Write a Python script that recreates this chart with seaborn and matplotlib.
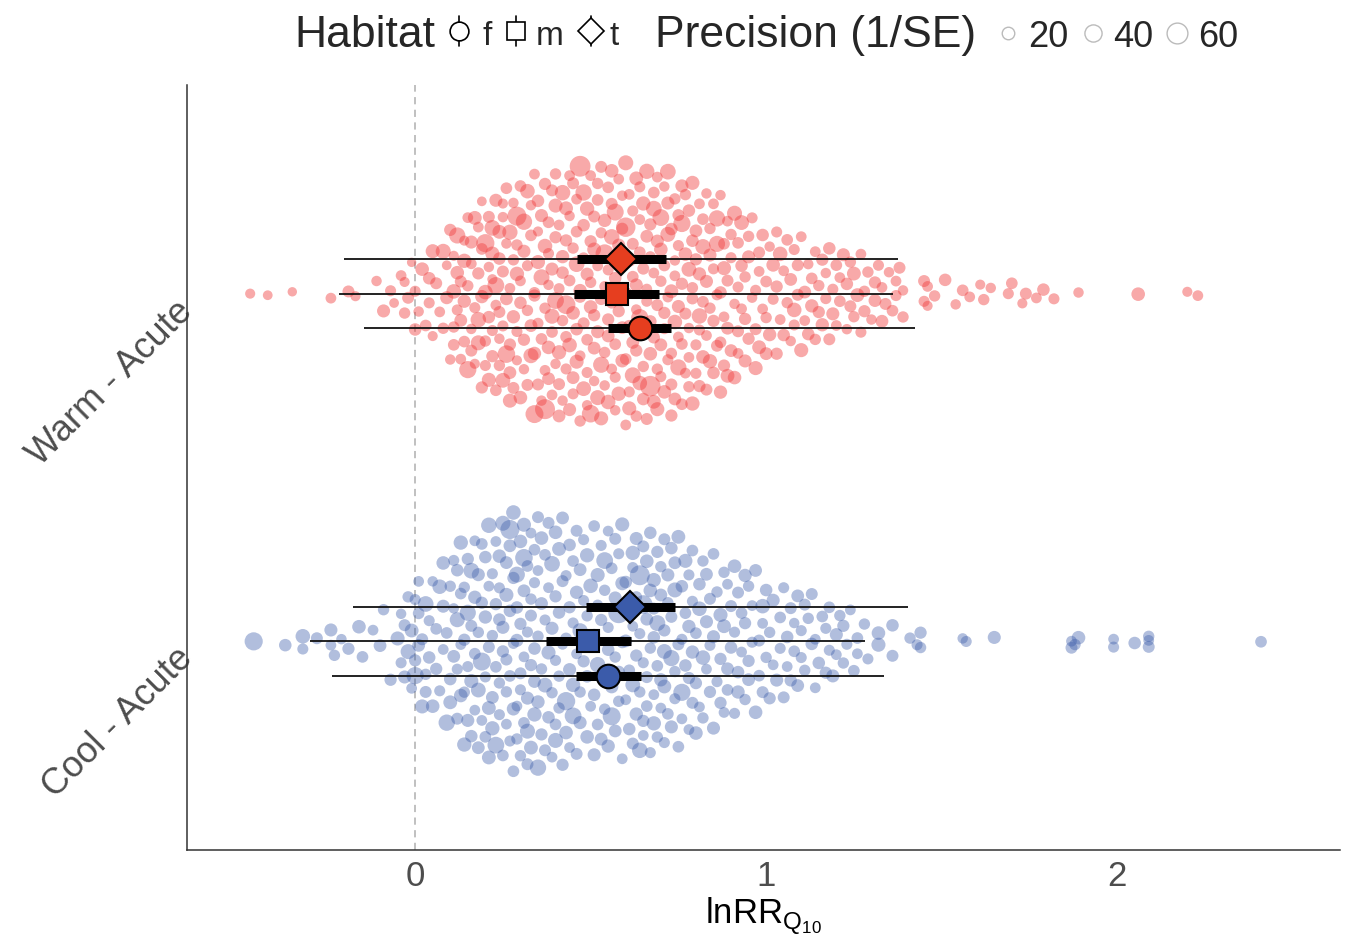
import numpy as np
import pandas as pd
import matplotlib
matplotlib.use("Agg")
import matplotlib.pyplot as plt
import seaborn as sns
from matplotlib.lines import Line2D

# ---------------- data ----------------
GROUPS = ["Cool - Acute", "Warm - Acute"]
HABITATS = ["f", "m", "t"]
X_TICKS = [0, 1, 2]
PREC_LEGEND = [20, 40, 60]

WARM_LNRR = [
    -0.47, -0.42, -0.35, -0.24, -0.19, -0.17, -0.11, -0.09, -0.07, -0.06,
    -0.04, -0.03, -0.03, -0.02, -0.01, 0.00, 0.00, 0.01, 0.02, 0.03,
    0.04, 0.04, 0.05, 0.05, 0.06, 0.07, 0.08, 0.08, 0.09, 0.09,
    0.10, 0.10, 0.11, 0.11, 0.11, 0.12, 0.12, 0.12, 0.13, 0.13,
    0.13, 0.14, 0.14, 0.14, 0.15, 0.15, 0.15, 0.16, 0.16, 0.16,
    0.17, 0.17, 0.17, 0.18, 0.18, 0.18, 0.19, 0.19, 0.19, 0.20,
    0.20, 0.20, 0.21, 0.21, 0.21, 0.21, 0.22, 0.22, 0.22, 0.22,
    0.23, 0.23, 0.23, 0.23, 0.24, 0.24, 0.24, 0.24, 0.25, 0.25,
    0.25, 0.25, 0.26, 0.26, 0.26, 0.26, 0.27, 0.27, 0.27, 0.27,
    0.28, 0.28, 0.28, 0.28, 0.29, 0.29, 0.29, 0.29, 0.30, 0.30,
    0.30, 0.30, 0.31, 0.31, 0.31, 0.31, 0.32, 0.32, 0.32, 0.32,
    0.33, 0.33, 0.33, 0.33, 0.34, 0.34, 0.34, 0.34, 0.34, 0.35,
    0.35, 0.35, 0.35, 0.35, 0.36, 0.36, 0.36, 0.36, 0.37, 0.37,
    0.37, 0.37, 0.37, 0.38, 0.38, 0.38, 0.38, 0.38, 0.39, 0.39,
    0.39, 0.39, 0.39, 0.40, 0.40, 0.40, 0.40, 0.40, 0.41, 0.41,
    0.41, 0.41, 0.41, 0.42, 0.42, 0.42, 0.42, 0.42, 0.43, 0.43,
    0.43, 0.43, 0.43, 0.44, 0.44, 0.44, 0.44, 0.44, 0.45, 0.45,
    0.45, 0.45, 0.45, 0.46, 0.46, 0.46, 0.46, 0.46, 0.47, 0.47,
    0.47, 0.47, 0.47, 0.48, 0.48, 0.48, 0.48, 0.48, 0.49, 0.49,
    0.49, 0.49, 0.49, 0.50, 0.50, 0.50, 0.50, 0.50, 0.51, 0.51,
    0.51, 0.51, 0.51, 0.52, 0.52, 0.52, 0.52, 0.52, 0.53, 0.53,
    0.53, 0.53, 0.53, 0.54, 0.54, 0.54, 0.54, 0.54, 0.55, 0.55,
    0.55, 0.55, 0.55, 0.56, 0.56, 0.56, 0.56, 0.56, 0.57, 0.57,
    0.57, 0.57, 0.57, 0.58, 0.58, 0.58, 0.58, 0.58, 0.59, 0.59,
    0.59, 0.59, 0.59, 0.60, 0.60, 0.60, 0.60, 0.60, 0.61, 0.61,
    0.61, 0.61, 0.61, 0.62, 0.62, 0.62, 0.62, 0.62, 0.63, 0.63,
    0.63, 0.63, 0.63, 0.64, 0.64, 0.64, 0.64, 0.64, 0.65, 0.65,
    0.65, 0.65, 0.65, 0.66, 0.66, 0.66, 0.66, 0.66, 0.67, 0.67,
    0.67, 0.67, 0.67, 0.68, 0.68, 0.68, 0.68, 0.68, 0.69, 0.69,
    0.69, 0.69, 0.69, 0.70, 0.70, 0.70, 0.70, 0.71, 0.71, 0.71,
    0.71, 0.72, 0.72, 0.72, 0.72, 0.73, 0.73, 0.73, 0.73, 0.74,
    0.74, 0.74, 0.74, 0.75, 0.75, 0.75, 0.75, 0.76, 0.76, 0.76,
    0.77, 0.77, 0.77, 0.78, 0.78, 0.78, 0.79, 0.79, 0.79, 0.80,
    0.80, 0.80, 0.81, 0.81, 0.81, 0.82, 0.82, 0.83, 0.83, 0.83,
    0.84, 0.84, 0.85, 0.85, 0.85, 0.86, 0.86, 0.87, 0.87, 0.88,
    0.88, 0.89, 0.89, 0.90, 0.90, 0.91, 0.91, 0.92, 0.92, 0.93,
    0.93, 0.94, 0.95, 0.95, 0.96, 0.97, 0.97, 0.98, 0.99, 1.00,
    1.00, 1.01, 1.02, 1.03, 1.03, 1.04, 1.05, 1.06, 1.07, 1.08,
    1.08, 1.09, 1.10, 1.11, 1.12, 1.13, 1.13, 1.14, 1.15, 1.16,
    1.17, 1.18, 1.19, 1.20, 1.21, 1.22, 1.23, 1.24, 1.25, 1.26,
    1.27, 1.28, 1.30, 1.31, 1.32, 1.33, 1.35, 1.36, 1.37, 1.38,
    1.39, 1.39, 1.45, 1.45, 1.46, 1.46, 1.48, 1.51, 1.54, 1.56,
    1.58, 1.61, 1.62, 1.64, 1.69, 1.70, 1.73, 1.74, 1.77, 1.79,
    1.82, 1.89, 2.06, 2.20, 2.23,
    0.11, 0.14, 0.16, 0.18, 0.19, 0.20, 0.22, 0.24, 0.25, 0.27,
    0.29, 0.70, 0.71, 0.72, 0.73, 0.74, 0.75, 0.76, 0.76, 0.77,
    0.78, 0.78, 0.79, 0.79, 0.80, 0.81, 0.81, 0.82, 0.82, 0.83,
    0.84, 0.84, 0.85, 0.86, 0.86, 0.87, 0.87, 0.88, 0.88, 0.89,
    0.89, 0.90, 0.91, 0.92, 0.92, 0.93, 0.94, 0.94, 0.95, 0.96,
    0.97, 0.98, 0.98, 0.99, 1.00, 1.01, 1.02, 1.03, 1.04, 1.05,
    1.06, 1.07, 1.08, 1.09, 1.10, 1.11, 1.12, 1.14, 1.15, 1.16,
    1.17, 1.18, 1.19, 1.20, 1.21, 1.23, 1.24, 1.25, 1.27, 1.28,
    1.29, 1.31, 1.33, 1.34, 1.37,
]
WARM_PREC = [
    12, 11, 10, 14, 18, 12, 13, 22, 15, 11,
    14, 16, 12, 18, 10, 20, 15, 13, 24, 17,
    20, 15, 26, 12, 18, 14, 30, 16, 11, 22,
    19, 13, 28, 16, 12, 24, 15, 35, 14, 18,
    21, 12, 17, 27, 14, 40, 16, 13, 22, 18,
    15, 25, 12, 19, 32, 14, 17, 23, 11, 28,
    16, 45, 13, 20, 18, 26, 12, 15, 33, 19,
    14, 22, 17, 38, 13, 25, 16, 20, 12, 29,
    18, 15, 42, 13, 21, 17, 26, 14, 19, 31,
    16, 23, 13, 18, 27, 15, 50, 12, 20, 17,
    24, 14, 19, 36, 13, 22, 16, 28, 18, 15,
    21, 13, 30, 17, 19, 14, 44, 16, 23, 12,
    18, 26, 15, 20, 13, 34, 17, 22, 14, 28,
    16, 19, 55, 13, 24, 17, 21, 15, 30, 18,
    14, 22, 17, 26, 13, 19, 38, 16, 21, 15,
    27, 14, 18, 23, 16, 32, 13, 20, 17, 25,
    15, 19, 48, 14, 22, 17, 28, 13, 21, 16,
    24, 18, 15, 33, 20, 14, 26, 17, 19, 60,
    16, 23, 14, 20, 29, 15, 18, 36, 13, 22,
    17, 27, 15, 19, 24, 14, 42, 16, 21, 18,
    13, 25, 19, 16, 30, 14, 22, 17, 35, 15,
    20, 18, 26, 14, 16, 23, 13, 45, 19, 17,
    28, 15, 21, 18, 14, 32, 16, 24, 13, 20,
    17, 39, 15, 22, 19, 14, 27, 16, 21, 13,
    24, 18, 16, 30, 14, 20, 17, 52, 15, 23,
    19, 14, 26, 17, 21, 15, 34, 18, 13, 25,
    16, 22, 19, 14, 28, 17, 40, 15, 20, 18,
    13, 27, 16, 21, 15, 31, 18, 14, 24, 19,
    58, 15, 20, 17, 25, 14, 19, 33, 16, 22,
    18, 14, 26, 16, 21, 38, 15, 19, 13, 24,
    17, 22, 15, 30, 14, 19, 25, 16, 20, 13,
    28, 16, 21, 14, 18, 35, 15, 22, 17, 19,
    14, 24, 18, 16, 29, 13, 20, 17, 26, 15,
    21, 15, 32, 14, 19, 17, 24, 13, 18, 22,
    16, 27, 14, 20, 15, 36, 18, 13, 23, 17,
    19, 14, 25, 16, 21, 13, 30, 15, 18, 20,
    14, 22, 16, 19, 13, 26, 15, 18, 14, 21,
    17, 13, 24, 15, 19, 14, 20, 16, 13, 28,
    15, 18, 14, 21, 13, 17, 23, 14, 16, 19,
    13, 20, 15, 17, 14, 22, 13, 18, 16, 25,
    14, 16, 13, 19, 15, 21, 13, 17, 14, 18,
    16, 13, 15, 18, 12, 14, 16, 20, 13, 17,
    14, 12, 16, 13, 15, 17, 12, 18, 14, 20,
    15, 13, 24, 12, 14,
    17, 23, 14, 30, 19, 15, 26, 18, 13, 21,
    16, 24, 15, 33, 18, 14, 22, 17, 40, 16,
    20, 14, 27, 16, 19, 23, 15, 31, 17, 14,
    22, 16, 19, 35, 15, 20, 17, 26, 14, 18,
    21, 15, 24, 17, 14, 29, 16, 19, 22, 15,
    18, 25, 14, 20, 16, 23, 15, 19, 28, 14,
    17, 21, 15, 18, 26, 14, 20, 16, 19, 23,
    15, 18, 22, 14, 17, 20, 16, 25, 15, 19,
    16, 21, 14, 18, 15,
]

COOL_LNRR = [
    -0.46, -0.37, -0.32, -0.32, -0.28, -0.24, -0.24, -0.23, -0.21, -0.19,
    -0.16, -0.15, -0.12, -0.10, -0.09, -0.07, -0.05, -0.04, -0.04, -0.03,
    -0.03, -0.02, -0.02, -0.01, -0.01, 0.00, 0.00, 0.00, 0.01, 0.01,
    0.01, 0.02, 0.02, 0.03, 0.03, 0.04, 0.04, 0.05, 0.05, 0.06,
    0.06, 0.07, 0.07, 0.08, 0.08, 0.09, 0.09, 0.10, 0.10, 0.10,
    0.11, 0.11, 0.12, 0.12, 0.12, 0.13, 0.13, 0.13, 0.14, 0.14,
    0.14, 0.15, 0.15, 0.15, 0.16, 0.16, 0.16, 0.17, 0.17, 0.17,
    0.18, 0.18, 0.18, 0.19, 0.19, 0.19, 0.20, 0.20, 0.20, 0.20,
    0.21, 0.21, 0.21, 0.21, 0.22, 0.22, 0.22, 0.22, 0.23, 0.23,
    0.23, 0.23, 0.24, 0.24, 0.24, 0.24, 0.25, 0.25, 0.25, 0.25,
    0.26, 0.26, 0.26, 0.26, 0.26, 0.27, 0.27, 0.27, 0.27, 0.28,
    0.28, 0.28, 0.28, 0.28, 0.29, 0.29, 0.29, 0.29, 0.29, 0.30,
    0.30, 0.30, 0.30, 0.30, 0.31, 0.31, 0.31, 0.31, 0.31, 0.32,
    0.32, 0.32, 0.32, 0.32, 0.33, 0.33, 0.33, 0.33, 0.33, 0.34,
    0.34, 0.34, 0.34, 0.34, 0.35, 0.35, 0.35, 0.35, 0.35, 0.36,
    0.36, 0.36, 0.36, 0.37, 0.37, 0.37, 0.37, 0.38, 0.38, 0.38,
    0.38, 0.39, 0.39, 0.39, 0.39, 0.40, 0.40, 0.40, 0.40, 0.41,
    0.41, 0.41, 0.42, 0.42, 0.42, 0.43, 0.43, 0.43, 0.44, 0.44,
    0.44, 0.45, 0.45, 0.45, 0.46, 0.46, 0.46, 0.47, 0.47, 0.47,
    0.48, 0.48, 0.49, 0.49, 0.49, 0.50, 0.50, 0.51, 0.51, 0.51,
    0.52, 0.52, 0.53, 0.53, 0.54, 0.54, 0.54, 0.55, 0.55, 0.56,
    0.56, 0.57, 0.57, 0.58, 0.58, 0.58, 0.59, 0.59, 0.60, 0.60,
    0.61, 0.61, 0.62, 0.62, 0.62, 0.63, 0.63, 0.64, 0.64, 0.65,
    0.65, 0.65, 0.66, 0.66, 0.67, 0.67, 0.68, 0.68, 0.68, 0.69,
    0.69, 0.70, 0.70, 0.71, 0.71, 0.71, 0.72, 0.72, 0.73, 0.73,
    0.74, 0.74, 0.75, 0.75, 0.76, 0.76, 0.77, 0.77, 0.78, 0.78,
    0.79, 0.79, 0.80, 0.80, 0.81, 0.82, 0.82, 0.83, 0.83, 0.84,
    0.85, 0.85, 0.86, 0.87, 0.87, 0.88, 0.89, 0.89, 0.90, 0.91,
    0.91, 0.92, 0.93, 0.94, 0.94, 0.95, 0.96, 0.97, 0.98, 0.99,
    1.00, 1.01, 1.02, 1.03, 1.04, 1.05, 1.06, 1.07, 1.08, 1.09,
    1.10, 1.11, 1.12, 1.13, 1.14, 1.16, 1.17, 1.18, 1.20, 1.22,
    1.24, 1.26, 1.29, 1.32, 1.32, 1.36, 1.36, 1.41, 1.43, 1.44,
    1.44, 1.56, 1.57, 1.65, 1.87, 1.87, 1.88, 1.89, 1.99, 1.99,
    2.05, 2.09, 2.09, 2.09, 2.41,
    0.03, 0.08, 0.11, 0.12, 0.13, 0.14, 0.15, 0.16, 0.17, 0.18,
    0.19, 0.21, 0.24, 0.27, 0.40, 0.41, 0.42, 0.43, 0.44, 0.45,
    0.46, 0.47, 0.48, 0.49, 0.50, 0.51, 0.52, 0.52, 0.53, 0.54,
    0.55, 0.55, 0.56, 0.57, 0.57, 0.58, 0.59, 0.59, 0.60, 0.61,
    0.62, 0.62, 0.63, 0.63, 0.64, 0.64, 0.65, 0.65, 0.66, 0.66,
    0.67, 0.67, 0.68, 0.68, 0.69, 0.69, 0.70, 0.70, 0.71, 0.71,
    0.72, 0.73, 0.73, 0.74, 0.74, 0.75, 0.76, 0.76, 0.77, 0.78,
    0.78, 0.79, 0.79, 0.80, 0.81, 0.81, 0.82, 0.83, 0.84, 0.84,
    0.85, 0.86, 0.87, 0.88, 0.88, 0.89, 0.90, 0.91, 0.92, 0.92,
    0.93, 0.94, 0.95, 0.95, 0.96, 0.97, 0.98, 0.99, 0.99, 1.00,
    1.01, 1.02, 1.04, 1.05, 1.06, 1.07, 1.08, 1.09, 1.10, 1.11,
    1.13, 1.14, 1.15, 1.17, 1.18, 1.19, 1.20, 1.21, 1.22, 1.23,
    1.25, 1.26, 1.28,
]
COOL_PREC = [
    45, 20, 28, 15, 18, 14, 22, 16, 13, 19,
    24, 17, 14, 21, 16, 19, 26, 15, 13, 22,
    18, 30, 16, 14, 25, 19, 15, 40, 17, 21,
    14, 26, 18, 16, 33, 15, 20, 13, 24, 17,
    19, 28, 15, 22, 14, 36, 17, 20, 16, 25,
    13, 21, 18, 30, 15, 24, 17, 14, 27, 19,
    16, 22, 35, 15, 20, 18, 26, 14, 23, 17,
    21, 16, 29, 14, 19, 44, 17, 23, 15, 20,
    25, 14, 18, 32, 16, 21, 15, 27, 19, 17,
    14, 38, 20, 16, 24, 15, 19, 30, 17, 22,
    16, 21, 14, 26, 18, 50, 15, 20, 17, 23,
    19, 15, 28, 17, 22, 14, 34, 16, 20, 18,
    24, 16, 19, 15, 42, 17, 21, 14, 26, 18,
    15, 22, 17, 30, 16, 19, 14, 25, 18, 21,
    17, 27, 15, 20, 18, 36, 16, 23, 14, 19,
    21, 16, 24, 18, 15, 29, 17, 20, 14, 26,
    18, 14, 22, 16, 33, 17, 19, 15, 24, 20,
    16, 25, 18, 14, 21, 17, 46, 15, 19, 22,
    20, 15, 27, 17, 23, 14, 18, 31, 16, 21,
    15, 19, 24, 16, 20, 14, 28, 17, 22, 18,
    26, 17, 15, 21, 18, 38, 16, 20, 14, 23,
    17, 22, 16, 60, 19, 15, 25, 18, 21, 14,
    20, 16, 27, 18, 14, 23, 17, 32, 15, 19,
    48, 15, 21, 18, 24, 16, 20, 14, 26, 17,
    19, 23, 16, 29, 18, 15, 22, 17, 35, 20,
    16, 21, 18, 25, 15, 40, 17, 20, 14, 23,
    18, 15, 24, 17, 20, 28, 16, 22, 14, 19,
    17, 22, 15, 19, 26, 16, 21, 14, 18, 24,
    15, 20, 17, 23, 16, 19, 14, 21, 18, 28,
    16, 19, 14, 22, 17, 15, 20, 18, 13, 21,
    15, 18, 16, 20, 14, 17, 19, 15, 22, 16,
    14, 17, 15, 24, 26, 20, 18, 16, 15, 19,
    16, 13, 15, 22, 18, 14, 16, 24, 15, 14,
    20, 16, 18, 14, 17,
    18, 24, 15, 20, 27, 16, 19, 33, 14, 22,
    17, 25, 15, 21, 30, 16, 19, 24, 14, 38,
    18, 22, 15, 27, 17, 20, 14, 32, 19, 16,
    23, 15, 44, 18, 21, 16, 26, 14, 20, 17,
    29, 15, 19, 22, 16, 55, 18, 14, 24, 17,
    20, 15, 27, 18, 16, 34, 14, 21, 19, 25,
    16, 22, 18, 15, 30, 17, 20, 14, 26, 19,
    15, 23, 17, 19, 14, 28, 16, 21, 18, 15,
    22, 16, 19, 14, 25, 17, 20, 15, 18, 23,
    14, 19, 16, 21, 15, 24, 17, 18, 14, 20,
    16, 22, 15, 18, 14, 19, 17, 21, 15, 16,
    18, 14, 20, 15, 17, 22, 14, 16, 19, 15,
    17, 14, 16,
]

# model estimates per habitat (f, m, t)
WARM_EST = [0.640, 0.574, 0.587]
WARM_CI_LO = [0.550, 0.453, 0.461]
WARM_CI_HI = [0.729, 0.695, 0.715]
WARM_PI_LO = [-0.145, -0.216, -0.202]
WARM_PI_HI = [1.423, 1.362, 1.376]
COOL_EST = [0.550, 0.492, 0.613]
COOL_CI_LO = [0.459, 0.372, 0.487]
COOL_CI_HI = [0.643, 0.614, 0.741]
COOL_PI_LO = [-0.237, -0.299, -0.177]
COOL_PI_HI = [1.335, 1.282, 1.404]

# ---------------- style ----------------
sns.set_style("white")
plt.rcParams["font.family"] = ["Liberation Sans", "DejaVu Sans"]

WARM_PT = "#F04040"
COOL_PT = "#3C5DAA"
WARM_EST_COL = "#E63E1F"
COOL_EST_COL = "#3B5BAA"
HAB_OFFSET = {"f": -0.1, "m": 0.0, "t": 0.1}
HAB_MARKER = {"f": "o", "m": "s", "t": "D"}
HAB_MS = {"f": 17, "m": 16, "t": 16}


def vdc_seq(n):
    out = np.zeros(n)
    for i in range(n):
        k = i + 1
        denom = 1.0
        v = 0.0
        while k > 0:
            denom *= 2.0
            v += (k % 2) / denom
            k //= 2
        out[i] = v
    return out


def quasi_offsets(x, width=0.38):
    x = np.asarray(x, float)
    n = len(x)
    sd = x.std(ddof=1)
    q75, q25 = np.percentile(x, [75, 25])
    bw = 0.9 * min(sd, (q75 - q25) / 1.34) * n ** -0.2
    d = np.exp(-0.5 * ((x[:, None] - x[None, :]) / bw) ** 2).sum(axis=1)
    d = d / d.max()
    order = np.argsort(x, kind="stable")
    ranks = np.empty(n, int)
    ranks[order] = np.arange(n)
    q = vdc_seq(n)[ranks]
    return (q - 0.5) * 2.0 * width * d


nw = min(len(WARM_LNRR), len(WARM_PREC))
nc = min(len(COOL_LNRR), len(COOL_PREC))
df_w = pd.DataFrame({"lnRR": WARM_LNRR[:nw], "prec": WARM_PREC[:nw]})
df_w["ypos"] = 2 + quasi_offsets(df_w["lnRR"].values)
df_c = pd.DataFrame({"lnRR": COOL_LNRR[:nc], "prec": COOL_PREC[:nc]})
df_c["ypos"] = 1 + quasi_offsets(df_c["lnRR"].values)

W, H = 1351, 936
fig = plt.figure(figsize=(W / 100, H / 100), dpi=100)
ax = fig.add_axes([187 / W, 1 - 850 / H, (1340 - 187) / W, (850 - 85) / H])

ax.axvline(0, color="#BBBBBB", ls=(0, (4, 3)), lw=1.3, zorder=0)

for df, col, a in [(df_w, WARM_PT, 0.45), (df_c, COOL_PT, 0.40)]:
    sns.scatterplot(data=df, x="lnRR", y="ypos", size="prec", sizes=(10, 260),
                    size_norm=(0, 70), color=col, alpha=a, linewidth=0,
                    legend=False, ax=ax, zorder=2)

for yc0, est, clo, chi, plo, phi, fc in [
        (2, WARM_EST, WARM_CI_LO, WARM_CI_HI, WARM_PI_LO, WARM_PI_HI, WARM_EST_COL),
        (1, COOL_EST, COOL_CI_LO, COOL_CI_HI, COOL_PI_LO, COOL_PI_HI, COOL_EST_COL)]:
    for i, h in enumerate(HABITATS):
        yc = yc0 + HAB_OFFSET[h]
        ax.plot([plo[i], phi[i]], [yc, yc], color="#111111", lw=1.3, zorder=3,
                solid_capstyle="butt")
        ax.plot([clo[i], chi[i]], [yc, yc], color="black", lw=6.5, zorder=4,
                solid_capstyle="butt")
        ax.plot([est[i]], [yc], marker=HAB_MARKER[h], ms=HAB_MS[h], mfc=fc,
                mec="black", mew=1.5, zorder=5, ls="none")

ax.set_xlim(-0.65, 2.635)
ax.set_ylim(0.4, 2.6)
ax.set_xticks(X_TICKS)
ax.set_xticklabels([str(t) for t in X_TICKS])
ax.set_yticks([1, 2])
ax.set_yticklabels(GROUPS)
ax.set_ylabel("")
ax.set_xlabel(r"lnRR$_{\mathregular{Q}_{\mathregular{10}}}$", fontsize=25,
              color="black", labelpad=2)
for s in ["top", "right"]:
    ax.spines[s].set_visible(False)
for s in ["left", "bottom"]:
    ax.spines[s].set_color("#333333")
    ax.spines[s].set_linewidth(1.1)
ax.tick_params(axis="both", length=4, width=0.8, color="#333333",
               labelsize=25, labelcolor="#4D4D4D", pad=3)
ax.tick_params(axis="y", pad=5, labelsize=26)
for lbl in ax.get_yticklabels():
    lbl.set_rotation(45)
    lbl.set_ha("right")
    lbl.set_va("top")
    lbl.set_rotation_mode("anchor")


# ---------------- legend (top) ----------------
def fx(px):
    return px / W


def fy(py):
    return 1 - py / H


fig.text(fx(294), fy(47), "Habitat", fontsize=32, ha="left", va="baseline")
for cx, h, ms, tx in [(459, "f", 13.5, 482), (516, "m", 13.5, 536), (591, "t", 13, 609)]:
    fig.add_artist(Line2D([fx(cx), fx(cx)], [fy(16), fy(46)], color="black",
                          lw=1.2, transform=fig.transFigure))
    fig.add_artist(Line2D([fx(cx)], [fy(31)], marker=HAB_MARKER[h], ms=ms,
                          mfc="white", mec="black", mew=1.2, ls="none",
                          transform=fig.transFigure))
    fig.text(fx(tx), fy(45), h, fontsize=24, ha="left", va="baseline")

fig.text(fx(655), fy(47), "Precision (1/SE)", fontsize=32, ha="left", va="baseline")
for cx, val, tx in zip([1008, 1093, 1177], PREC_LEGEND, [1028, 1113, 1198]):
    ms = np.sqrt(10 + (val / 70) * 250)
    fig.add_artist(Line2D([fx(cx)], [fy(33)], marker="o", ms=ms, mfc="white",
                          mec="#BBBBBB", mew=1.0, ls="none",
                          transform=fig.transFigure))
    fig.text(fx(tx), fy(47), str(val), fontsize=26, ha="left", va="baseline")

fig.savefig("out.png", dpi=100)
